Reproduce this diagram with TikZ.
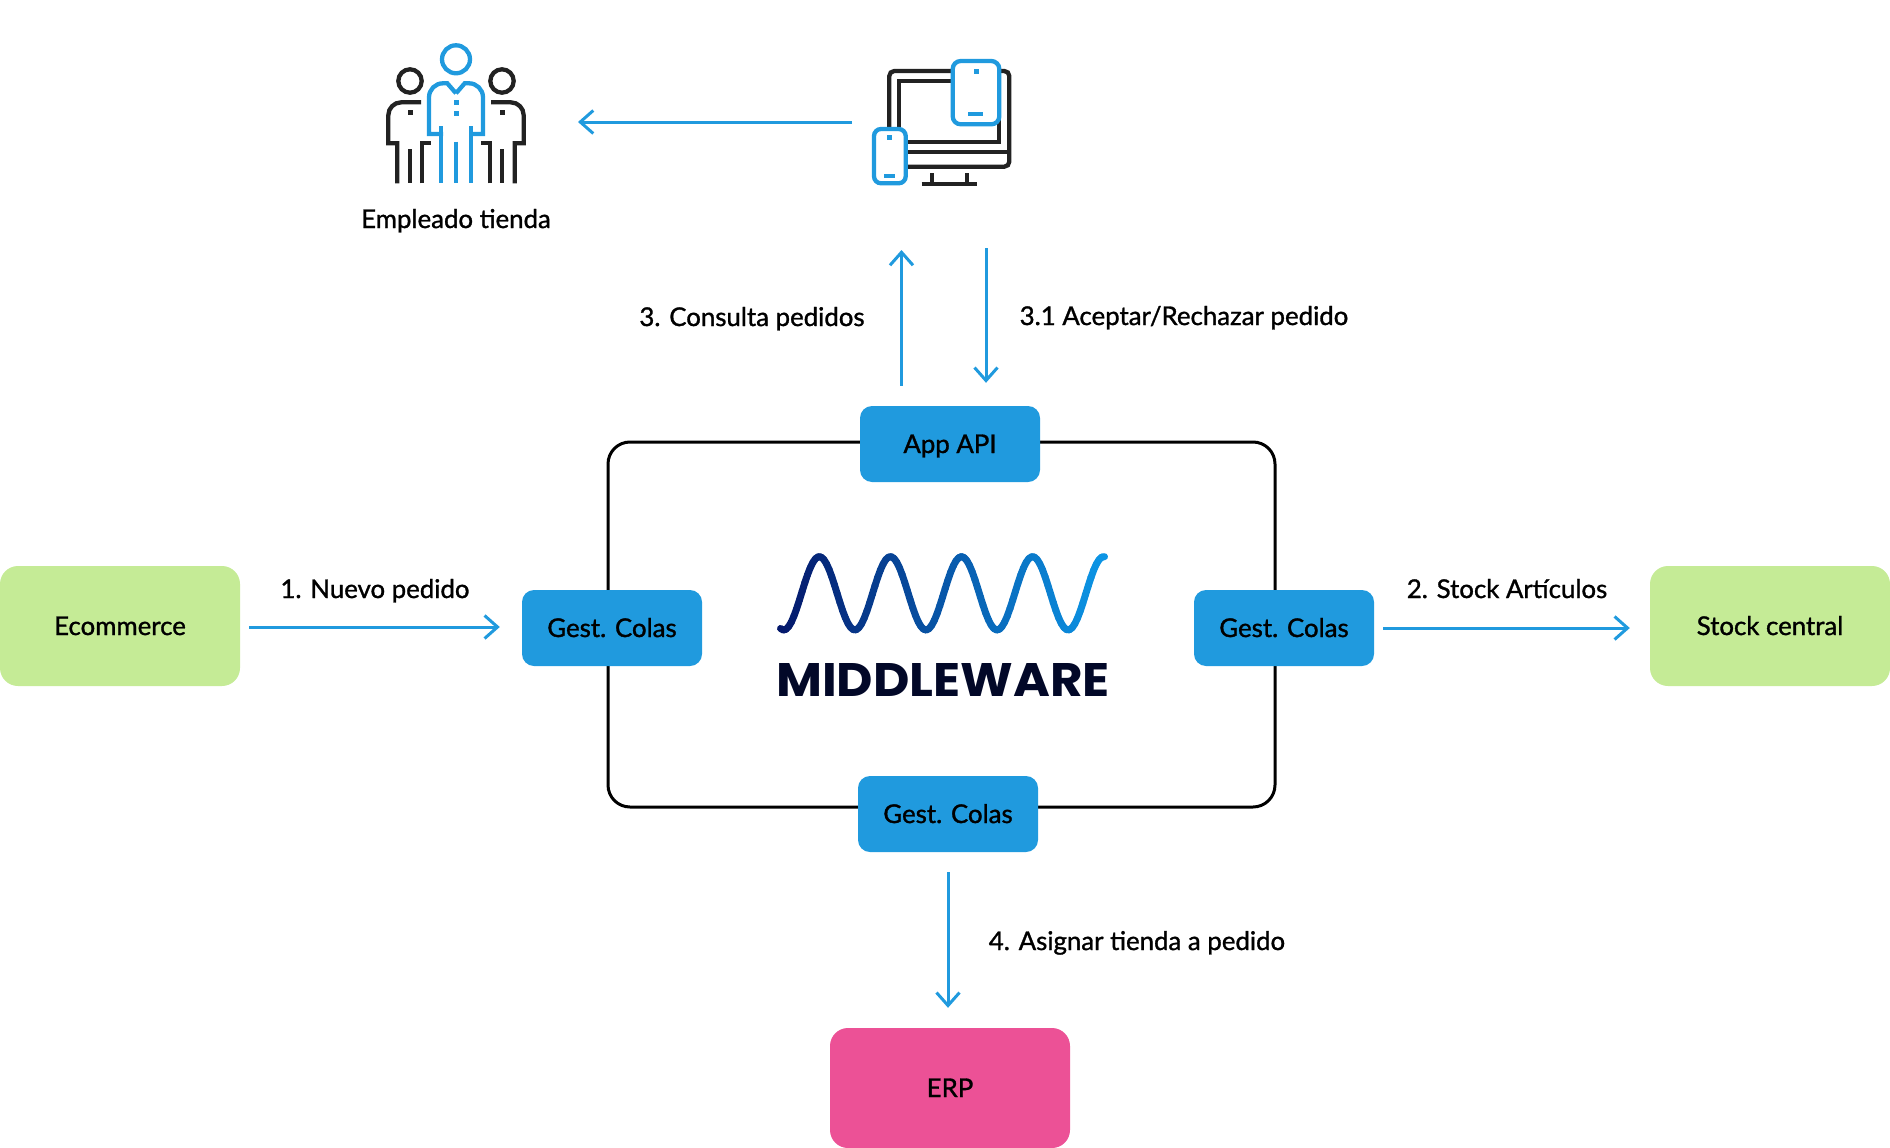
\documentclass[tikz,border=0pt]{standalone}
\usepackage{fontspec}
\setmainfont[FakeBold=1.2]{Lato}
\newfontfamily\logofont{Poppins}
\usepackage{tikz}
\usetikzlibrary{positioning, arrows.meta, calc}

\definecolor{gestblue}{HTML}{209ADE}
\definecolor{leafgreen}{HTML}{C5EB96}
\definecolor{erppink}{HTML}{EC5196}
\definecolor{iconblack}{HTML}{222222}
\definecolor{wavedark}{HTML}{04186B}
\definecolor{wavelight}{HTML}{0C96E6}
\definecolor{logoink}{HTML}{020828}

\begin{document}
\begin{tikzpicture}[
    x = 1pt,
    y = -1pt,
    > = {Straight Barb[length=13pt, width=23pt]},
    font = \fontsize{25.8}{30}\selectfont,
    bigbox/.style = {rounded corners=18pt, minimum width=240pt, minimum height=120pt, text height=18pt, text depth=0pt, inner sep=0pt},
    gest/.style = {rounded corners=12pt, fill=gestblue, minimum width=180pt, minimum height=76pt, text height=18pt, text depth=0pt, inner sep=0pt},
    flow/.style = {->, gestblue, line width=3pt},
    tag/.style = {inner sep=0pt, text height=23pt, text depth=5pt},
    blackline/.style = {iconblack, line width=4.3pt},
    blueline/.style = {gestblue, line width=4.3pt},
    declare function = {wavey(\x) = 593.3 - 36.7*cos(5.0633*(\x - 819.3));}
]

\useasboundingbox (0,0) rectangle (1890,1148);

% 1. Middleware frame and the outer systems
\node[draw, line width=3pt, rounded corners=22pt, minimum width=667pt, minimum height=365pt, inner sep=0pt] (frame) at (941.5,624.5) {};

\node[bigbox, fill=leafgreen] (ecommerce) at (120,626) {Ecommerce};
\node[bigbox, fill=leafgreen] (stock) at (1770,626) {Stock central};
\node[bigbox, fill=erppink] (erp) at (950,1088) {ERP};

% 2. The four gateways sitting on the frame
\node[gest] (api) at (950,444) {App API};
\node[gest] (colasW) at (612,628) {Gest. Colas};
\node[gest] (colasE) at (1284,628) {Gest. Colas};
\node[gest] (colasS) at (948,814) {Gest. Colas};

% 3. Wave of the logo, cut in short pieces to shift the colour
\foreach \t in {0, 1, ..., 119} {
    \pgfmathsetmacro{\xa}{780.5 + \t/120*324}
    \pgfmathsetmacro{\xb}{780.5 + (\t+1)/120*324}
    \pgfmathsetmacro{\mixval}{\t/1.2}
    \colorlet{wavecol}{wavelight!\mixval!wavedark}
    \draw[wavecol, line width=7pt, line cap=round] ({\xa},{wavey(\xa)}) -- ({\xb},{wavey(\xb)});
}
\node[logoink, inner sep=0pt, xscale=1.065, transform shape] (logo) at (943,680) {\fontsize{47}{50}\selectfont\logofont\bfseries MIDDLEWARE};

% 4. Staff icon, the side figures are mirrored
\foreach \side in {1, -1} {
    \begin{scope}[shift={(456,0)}, xscale=\side]
        \draw[blackline] (-46,81) circle (11.7);
        \draw[blackline] (-35,102.3) [rounded corners=13pt] -- (-67.7,102.3) [sharp corners] -- (-67.7,143.3) -- (-58.7,143.3) -- (-58.7,183.3);
        \draw[blackline] (-46,149.3) -- (-46,183.3);
        \draw[blackline] (-34,183.3) -- (-34,142.7) -- (-24.7,142.7);
        \fill[iconblack] (-48.5,110.2) rectangle (-43.5,115.2);
        \draw[blueline] (0,93.3) -- (-8.7,83.3) [rounded corners=14pt] -- (-27,83.3) [sharp corners] -- (-27,134) -- (-13,134);
        \draw[blueline] (-15,126) -- (-15,183.3);
    \end{scope}
}
\draw[blueline] (456,59.3) circle (14);
\draw[blueline] (456,141.7) -- (456,183.3);
\fill[gestblue] (453.5,100.2) rectangle (458.5,105.2);
\fill[gestblue] (453.5,111.2) rectangle (458.5,116.2);
\node[tag] (empleado) at (456,219) {Empleado tienda};

% 5. Devices icon
\draw[blackline, rounded corners=5pt] (889.3,71) rectangle (1009.3,166.7);
\draw[blackline] (889.3,152) -- (1009.3,152);
\draw[blackline] (899.3,81) rectangle (999.3,142);
\draw[blackline] (931.7,173.3) -- (931.7,184);
\draw[blackline] (966.7,173.3) -- (966.7,184);
\draw[blackline] (921.7,184) -- (976.7,184);
\draw[blueline, fill=white, rounded corners=8pt] (952.7,61) rectangle (999.3,124.3);
\fill[gestblue] (973.5,68.8) rectangle (978.5,73.8);
\draw[blueline] (968.3,114.3) -- (983.3,114.3);
\draw[blueline, fill=white, rounded corners=7pt] (874,129) rectangle (905.7,183.3);
\fill[gestblue] (887.2,134.8) rectangle (892.2,139.8);
\draw[blueline] (884.3,176) -- (895,176);

% 6. Free ends next to the icons
\coordinate (staff) at (456,122);
\coordinate (devices) at (940,122);
\coordinate (devicesUp) at (901.5,250);
\coordinate (devicesDown) at (986,248);

% 7. Arrows
\draw[flow, shorten <=9pt, shorten >=22pt] ([yshift=-1pt]ecommerce.east) -- ([yshift=-1pt]ecommerce.east -| colasW.west);
\draw[flow, shorten <=9pt, shorten >=20pt] (colasE.east) -- (colasE.east -| stock.west);
\draw[flow, shorten <=88pt, shorten >=122pt] (devices) -- (staff);
\draw[flow, shorten <=20pt] (api.north -| devicesUp) -- (devicesUp);
\draw[flow, shorten >=23pt] (devicesDown) -- (api.north -| devicesDown);
\draw[flow, shorten <=20pt, shorten >=20pt] (colasS.south) -- (colasS.south |- erp.north);

% 8. Labels of the steps
\node[tag] (paso1) at (375,589) {1. Nuevo pedido};
\node[tag] (paso2) at (1507,589) {2. Stock Artículos};
\node[tag] (paso3) at (752,317) {3. Consulta pedidos};
\node[tag] (paso31) at (1184,316) {3.1 Aceptar/Rechazar pedido};
\node[tag] (paso4) at (1137,941) {4. Asignar tienda a pedido};

\end{tikzpicture}
\end{document}
